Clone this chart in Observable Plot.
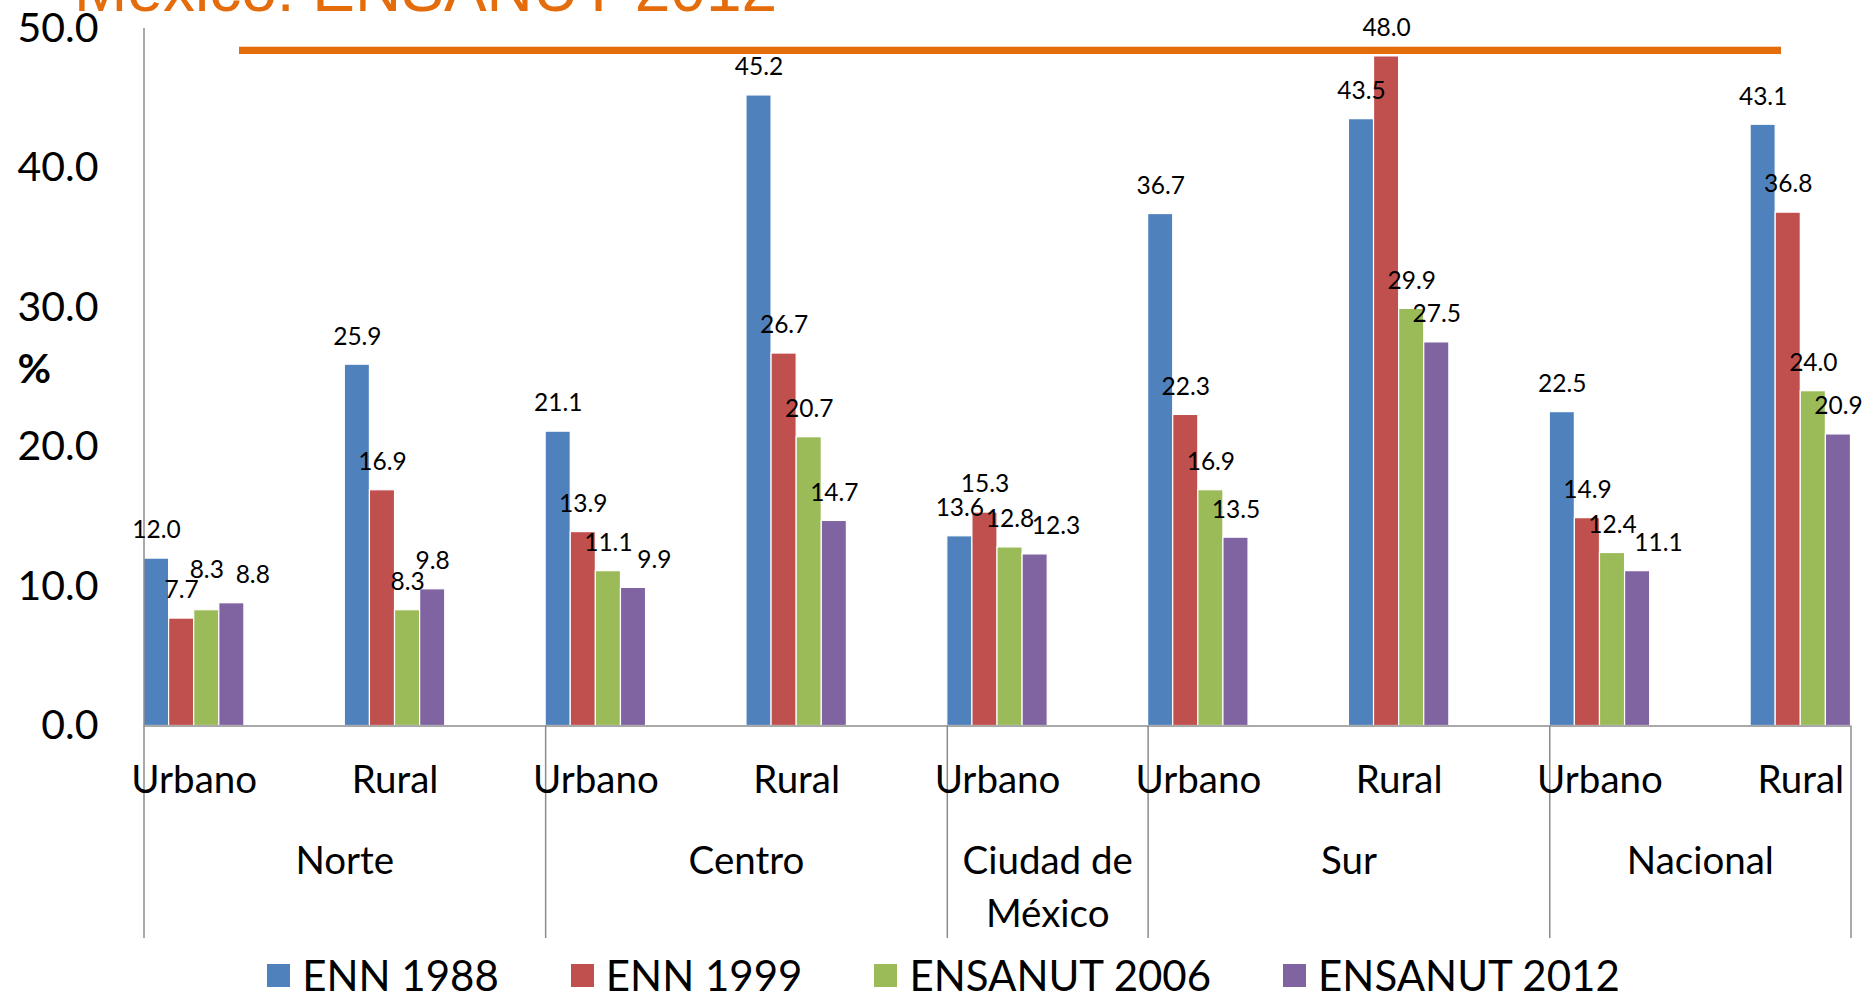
<!DOCTYPE html>
<html>
<head>
<meta charset="utf-8">
<script src="https://cdn.jsdelivr.net/npm/d3@7"></script>
<script src="https://cdn.jsdelivr.net/npm/@observablehq/plot@0.6"></script>
<style>
  html, body { margin: 0; padding: 0; background: #fff; overflow: hidden; }
  #wrap { position: relative; width: 1874px; height: 994px; overflow: hidden; font-family: Lato, sans-serif; }
  #chart { position: absolute; left: 0; top: 0; }
  #title { position: absolute; left: 74px; top: -43px; font-family: "Liberation Sans", Arial, sans-serif; font-size: 64px; line-height: 64px; color: #E46C0A; white-space: nowrap; z-index: 2; }
  #titleRule { position: absolute; left: 239px; top: 47px; width: 1542px; height: 7px; background: #E46C0A; box-shadow: 0 -1px 0 #F7D3B8; z-index: 2; }
  #legend { position: absolute; left: 0; top: 954px; width: 1874px; box-sizing: border-box; padding-left: 13px; display: flex; justify-content: center; align-items: center; gap: 72px; font-family: Lato, sans-serif; font-size: 42px; line-height: 42px; color: #000; }
  #legend .item { display: flex; align-items: center; gap: 12px; white-space: nowrap; }
  #legend .sw { width: 23px; height: 23px; }
</style>
</head>
<body>
<div id="wrap">
  <div id="chart"></div>
  <div id="title">México: ENSANUT 2012</div>
  <div id="titleRule"></div>
  <div id="legend"></div>
</div>
<script>
// ---- data ----
const categoryRegion = ["Norte", "Norte", "Centro", "Centro", "Ciudad de\nMéxico", "Sur", "Sur", "Nacional", "Nacional"];
const categoryArea = ["Urbano", "Rural", "Urbano", "Rural", "Urbano", "Urbano", "Rural", "Urbano", "Rural"];
const series = ["ENN 1988", "ENN 1999", "ENSANUT 2006", "ENSANUT 2012"];
const enn1988 = [12.0, 25.9, 21.1, 45.2, 13.6, 36.7, 43.5, 22.5, 43.1];
const enn1999 = [7.7, 16.9, 13.9, 26.7, 15.3, 22.3, 48.0, 14.9, 36.8];
const ensanut2006 = [8.3, 8.3, 11.1, 20.7, 12.8, 16.9, 29.9, 12.4, 24.0];
const ensanut2012 = [8.8, 9.8, 9.9, 14.7, 12.3, 13.5, 27.5, 11.1, 20.9];
const yTicks = [0, 10, 20, 30, 40, 50];
const yLabel = "%";
const colors = ["#4F81BD", "#C0504D", "#9BBB59", "#8064A2"];

// ---- layout ----
const W = 1874, H = 948;
const M = {left: 143.5, right: 23.5, top: 28, bottom: 222.5};
const yDomain = [0, 50];

// ---- derived tables ----
const seriesValues = [enn1988, enn1999, ensanut2006, ensanut2012];
const nCat = categoryArea.length;
const groupFrac = 0.5;                 // share of each category step occupied by its bar cluster
const barFrac = groupFrac / series.length;
const xEnd = nCat - 1 + groupFrac;

const xs = Plot.scale({x: {type: "linear", domain: [0, xEnd], range: [M.left, W - M.right]}});
const ys = Plot.scale({y: {type: "linear", domain: yDomain, range: [H - M.bottom, M.top]}});

const bars = [];
seriesValues.forEach((vals, j) => vals.forEach((v, i) => bars.push({
  i, j, series: series[j], value: v,
  x1: i + j * barFrac, x2: i + (j + 1) * barFrac, xm: i + (j + 0.5) * barFrac
})));

// value labels: above each bar, nudged to avoid colliding with the previous label of the same cluster
const labelGap = 28, labelW = 46, labelH = 20;
const labels = [];
for (let i = 0; i < nCat; i++) {
  const placed = [];
  for (let j = 0; j < series.length; j++) {
    const b = bars.find(d => d.i === i && d.j === j);
    let cx = xs.apply(b.xm), cy = ys.apply(b.value) - labelGap;
    for (const p of placed) {
      if (Math.abs(cx - p.cx) < labelW && Math.abs(cy - p.cy) < labelH) {
        if (j === series.length - 1) cx = p.cx + labelW;
        else cy = p.cy - labelH;
      }
    }
    placed.push({cx, cy});
    labels.push({text: b.value.toFixed(1), lx: xs.invert(cx), ly: ys.invert(cy)});
  }
}

const cats = categoryArea.map((a, i) => ({i, area: a, xm: i + groupFrac / 2}));

const groups = [];
categoryRegion.forEach((r, i) => {
  const last = groups[groups.length - 1];
  if (last && last.region === r) last.end = i + 1;
  else groups.push({region: r, start: i, end: i + 1});
});
groups.forEach(g => { g.end = Math.min(g.end, xEnd); g.mid = (g.start + g.end) / 2; });
const separators = groups.map(g => g.start).slice(1).concat([xEnd]);

const gray = "#8c8c8c";
const below = -212.5;

const chart = Plot.plot({
  width: W,
  height: H,
  marginLeft: M.left,
  marginRight: M.right,
  marginTop: M.top,
  marginBottom: M.bottom,
  style: {fontFamily: "Lato, sans-serif", color: "#000", background: "transparent", overflow: "visible"},
  x: {domain: [0, xEnd], axis: null},
  y: {domain: yDomain, axis: null},
  color: {domain: series, range: colors},
  marks: [
    Plot.rectY(bars, {x1: "x1", x2: "x2", y1: 0, y2: "value", fill: "series", stroke: "white", strokeWidth: 1.2}),
    Plot.ruleY([0], {stroke: gray, strokeWidth: 1.5}),
    Plot.ruleX([0], {stroke: gray, strokeWidth: 1.5, insetBottom: below}),
    Plot.ruleX(separators, {x: d => d, y1: 0, y2: 0, stroke: gray, strokeWidth: 1.5, insetBottom: below}),
    Plot.axisY({ticks: yTicks, tickSize: 0, tickPadding: 45.5, tickFormat: d3.format(".1f"), fontSize: 41, label: null, anchor: "left"}),
    Plot.text([yLabel], {frameAnchor: "left", dx: -126.5, dy: -7, text: d => d, fontSize: 41, fontWeight: "bold"}),
    Plot.text(labels, {x: "lx", y: "ly", text: "text", fontSize: 24.5, lineAnchor: "middle"}),
    Plot.text(cats, {x: "xm", frameAnchor: "bottom", dy: 54.5, text: "area", fontSize: 38.5, lineAnchor: "middle"}),
    Plot.text(groups, {x: "mid", frameAnchor: "bottom", dy: 110, text: "region", fontSize: 38.5, lineAnchor: "top", lineHeight: 1.38})
  ]
});
document.getElementById("chart").appendChild(chart);

// legend
const legend = document.getElementById("legend");
series.forEach((s, j) => {
  const item = document.createElement("div");
  item.className = "item";
  const sw = document.createElement("div");
  sw.className = "sw";
  sw.style.background = colors[j];
  const t = document.createElement("span");
  t.textContent = s;
  item.appendChild(sw);
  item.appendChild(t);
  legend.appendChild(item);
});
</script>
</body>
</html>
